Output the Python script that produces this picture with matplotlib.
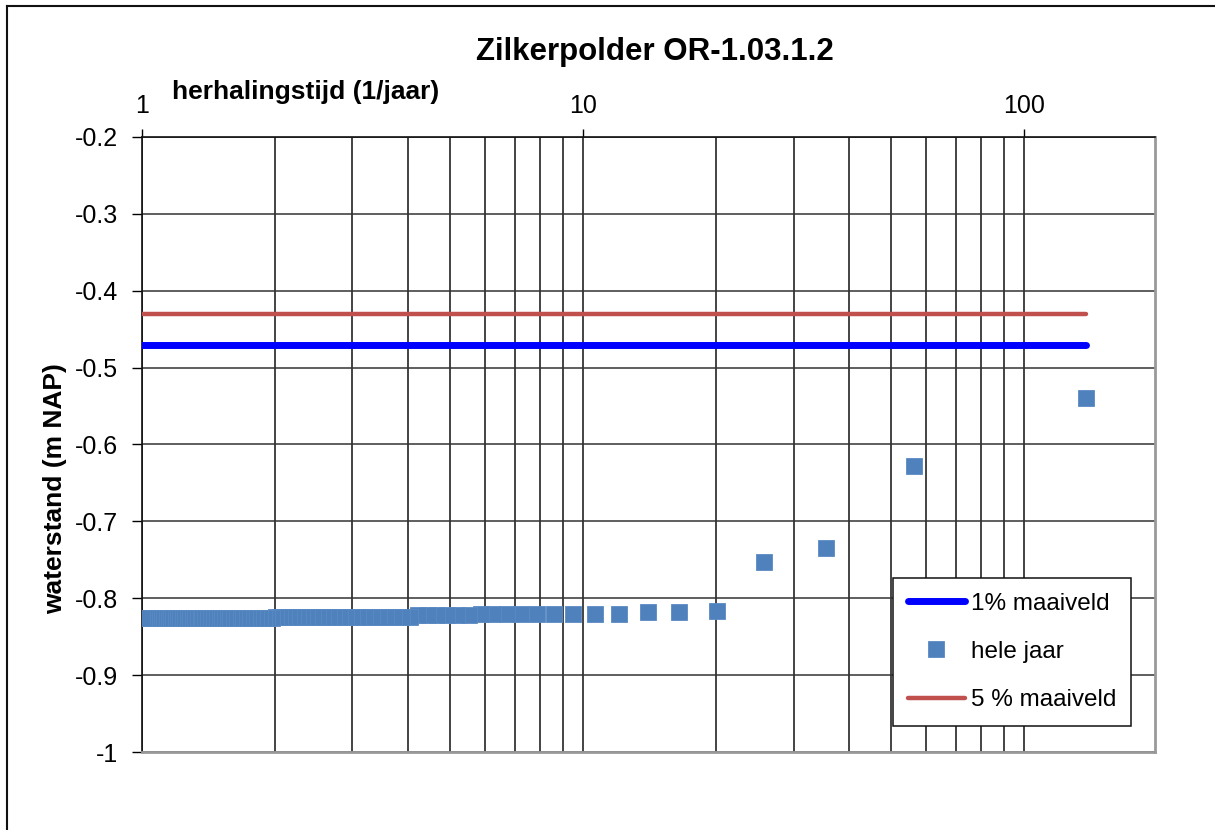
import matplotlib.pyplot as plt
from matplotlib.ticker import FixedLocator, FuncFormatter, NullFormatter
from matplotlib.lines import Line2D

plt.rcParams['font.family'] = ['Liberation Sans', 'DejaVu Sans']
plt.rcParams['axes.unicode_minus'] = False

# herhalingstijd (jaar) van elk punt, grootste eerst
herhalingstijd = [
    138, 56.4, 35.6, 25.7, 20.1, 16.5, 14.0, 12.04, 10.64, 9.47,
    8.57, 7.86, 7.24, 6.71, 6.26, 5.86, 5.51, 5.19, 4.92, 4.67,
    4.44, 4.23, 4.05, 3.88, 3.72, 3.57, 3.44, 3.32, 3.20, 3.09,
    2.99, 2.90, 2.81, 2.73, 2.65, 2.57, 2.50, 2.44, 2.37, 2.31,
    2.26, 2.20, 2.15, 2.10, 2.05, 2.01, 1.97, 1.92, 1.89, 1.85,
    1.81, 1.78, 1.74, 1.71, 1.68, 1.65, 1.62, 1.59, 1.56, 1.54,
    1.51, 1.49, 1.46, 1.44, 1.42, 1.40, 1.38, 1.36, 1.34, 1.32,
    1.30, 1.28, 1.26, 1.25, 1.23, 1.21, 1.20, 1.18, 1.17, 1.15,
    1.14, 1.12, 1.11, 1.10, 1.08, 1.07, 1.06, 1.05, 1.03, 1.02,
    1.01, 1.00,
]
# waterstand (m NAP), hele jaar
waterstand = [
    -0.539, -0.628, -0.735, -0.753, -0.8165, -0.818, -0.818, -0.8204, -0.8204, -0.8204,
    -0.8204, -0.8208, -0.8208, -0.8208, -0.8208, -0.8208, -0.822, -0.822, -0.822, -0.822,
    -0.822, -0.822, -0.824, -0.824, -0.824, -0.824, -0.824, -0.824, -0.824, -0.824,
    -0.824, -0.824, -0.824, -0.824, -0.824, -0.824, -0.824, -0.824, -0.824, -0.824,
    -0.824, -0.824, -0.824, -0.824, -0.824, -0.824, -0.826, -0.826, -0.826, -0.826,
    -0.826, -0.826, -0.826, -0.826, -0.826, -0.826, -0.826, -0.826, -0.826, -0.826,
    -0.826, -0.826, -0.826, -0.826, -0.826, -0.826, -0.826, -0.826, -0.826, -0.826,
    -0.826, -0.826, -0.826, -0.826, -0.826, -0.826, -0.826, -0.826, -0.826, -0.826,
    -0.826, -0.826, -0.826, -0.826, -0.826, -0.826, -0.826, -0.826, -0.826, -0.826,
    -0.826, -0.826,
]
# maaiveldlijnen
lijn_x = [1, 138]
maaiveld_1 = [-0.47, -0.47]
maaiveld_5 = [-0.43, -0.43]

x_ticks = [1, 10, 100]
y_ticks = [-1, -0.9, -0.8, -0.7, -0.6, -0.5, -0.4, -0.3, -0.2]

fig = plt.figure(figsize=(12.15, 8.3), dpi=100)
ax = fig.add_axes([142 / 1215, 1 - 752 / 830, (1155 - 142) / 1215, (752 - 137) / 830])

ax.plot(lijn_x, maaiveld_1, color='#0000FF', lw=5, solid_capstyle='round',
        label='1% maaiveld', zorder=3)
ax.plot(herhalingstijd, waterstand, ls='none', marker='s', ms=11,
        color='#4F81BD', mec='#5A8AC4', mew=0.6, label='hele jaar', zorder=4)
ax.plot(lijn_x, maaiveld_5, color='#C0504D', lw=3.2, solid_capstyle='round',
        label='5 % maaiveld', zorder=3)

ax.set_xscale('log')
ax.set_xlim(1, 198)
ax.set_ylim(-1, -0.2)

ax.xaxis.set_major_locator(FixedLocator(x_ticks))
ax.xaxis.set_major_formatter(FuncFormatter(lambda v, _: f"{v:g}"))
ax.xaxis.set_minor_formatter(NullFormatter())
ax.yaxis.set_major_locator(FixedLocator(y_ticks))
ax.yaxis.set_major_formatter(FuncFormatter(lambda v, _: f"{v:g}"))

ax.xaxis.tick_top()
ax.tick_params(axis='x', which='major', direction='out', length=6, width=1,
               pad=8, labelsize=18)
ax.tick_params(axis='x', which='minor', length=0)
ax.tick_params(axis='y', direction='out', length=7, width=1, pad=10, labelsize=18)

ax.set_axisbelow(True)
ax.grid(True, axis='x', which='both', color='#111111', lw=1.1)
ax.grid(True, axis='y', which='major', color='#333333', lw=1.1)

for s in ['left', 'top']:
    ax.spines[s].set_color('#111111')
    ax.spines[s].set_linewidth(1.2)
for s in ['right', 'bottom']:
    ax.spines[s].set_color('#999999')
    ax.spines[s].set_linewidth(2)

leg = ax.legend(loc='upper left', bbox_to_anchor=(893 / 1215, 1 - 578 / 830),
                bbox_transform=fig.transFigure, borderaxespad=0, fontsize=17.5,
                fancybox=False, framealpha=1, edgecolor='#111111',
                handlelength=2.35, handletextpad=0.25, labelspacing=1.08,
                borderpad=0.6)
leg.get_frame().set_linewidth(1.1)

fig.text(655 / 1215, 1 - 52 / 830, 'Zilkerpolder OR-1.03.1.2', ha='center',
         va='center', fontsize=22.5, fontweight='bold')
fig.text(172 / 1215, 1 - 92 / 830, 'herhalingstijd (1/jaar)', ha='left',
         va='center', fontsize=19, fontweight='bold')
fig.text(55 / 1215, 1 - 489 / 830, 'waterstand (m NAP)', ha='center',
         va='center', rotation=90, fontsize=19, fontweight='bold')

# rand om de grafiek (links en boven zichtbaar)
fig.add_artist(Line2D([7 / 1215, 7 / 1215], [0, 1 - 6 / 830], color='#111111', lw=1.5))
fig.add_artist(Line2D([7 / 1215, 1], [1 - 6 / 830, 1 - 6 / 830], color='#111111', lw=1.5))

fig.savefig('out.png', dpi=100)
